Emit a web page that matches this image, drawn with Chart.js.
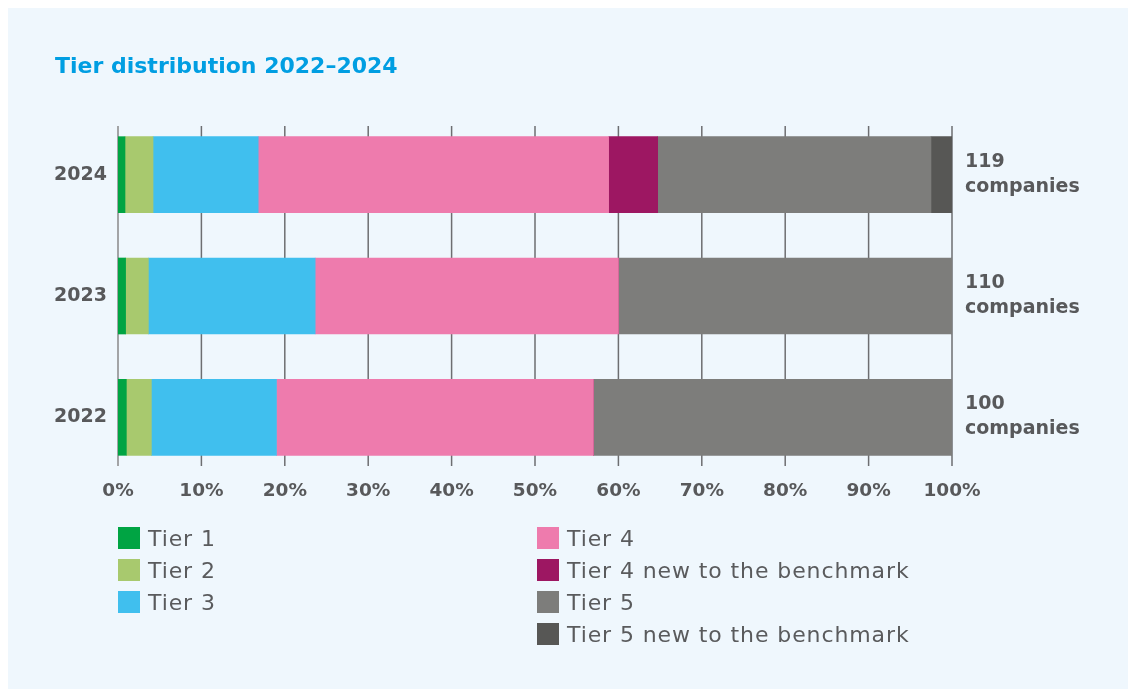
<!DOCTYPE html>
<html>
<head>
<meta charset="utf-8">
<title>Tier distribution 2022–2024</title>
<script src="https://cdn.jsdelivr.net/npm/chart.js@4/dist/chart.umd.min.js"></script>
<style>
  html, body { margin: 0; padding: 0; background: #ffffff; }
  body { width: 1128px; height: 689px; position: relative; overflow: hidden; }
  #panel { position: absolute; left: 8px; top: 8px; width: 1120px; height: 681px; background: #eff7fd; }
  #chart { position: absolute; left: 0; top: 0; }
</style>
</head>
<body>
<div id="panel"></div>
<canvas id="chart" width="1128" height="689"></canvas>
<script>
// Benchmark years, top to bottom
const years = ['2024', '2023', '2022'];
// Number of companies assessed each year
const companyTotals = [119, 110, 100];

// Share of companies per tier (% of that year's total)
const tier1 = [0.84, 0.91, 1.0];
const tier2 = [3.36, 2.73, 3.0];
const tier3 = [12.61, 20.0, 15.0];
const tier4 = [42.02, 36.36, 38.0];
const tier4New = [5.88, 0, 0];
const tier5 = [32.77, 40.0, 43.0];
const tier5New = [2.52, 0, 0];

// Axis ticks (percent)
const xTicks = [0, 10, 20, 30, 40, 50, 60, 70, 80, 90, 100];

const seriesNames = [
  'Tier 1', 'Tier 2', 'Tier 3', 'Tier 4',
  'Tier 4 new to the benchmark', 'Tier 5', 'Tier 5 new to the benchmark'
];
const seriesColors = ['#00a443', '#a8c96e', '#40bfee', '#ee7bad', '#9d1762', '#7d7d7b', '#575755'];
const seriesValues = [tier1, tier2, tier3, tier4, tier4New, tier5, tier5New];

const TEXT = '#58595b';
const BOLD = 'bold 19px "DejaVu Sans"';

// Vertical grid lines behind the bars
const gridPlugin = {
  id: 'gridLines',
  beforeDatasetsDraw(chart) {
    const { ctx, chartArea, scales } = chart;
    const top = chartArea.top + 12;
    const bottom = chartArea.bottom - 12;
    ctx.save();
    xTicks.forEach(v => {
      const x = scales.x.getPixelForValue(v);
      ctx.beginPath();
      ctx.strokeStyle = v === 0 ? '#a3a4a6' : '#6d6e71';
      ctx.lineWidth = v === 0 ? 2 : 1.5;
      ctx.moveTo(x, top);
      ctx.lineTo(x, bottom);
      ctx.stroke();
    });
    ctx.restore();
  }
};

// Title, company totals at the bar ends, and the two-column legend
const annotatePlugin = {
  id: 'annotate',
  afterDraw(chart) {
    const { ctx, chartArea, scales } = chart;
    ctx.save();

    ctx.fillStyle = '#009ee2';
    ctx.font = 'bold 22px "DejaVu Sans"';
    ctx.textAlign = 'left';
    ctx.textBaseline = 'alphabetic';
    ctx.fillText('Tier distribution 2022–2024', 55, 73);

    ctx.fillStyle = TEXT;
    ctx.font = BOLD;
    ctx.textBaseline = 'middle';
    years.forEach((y, i) => {
      const cy = scales.y.getPixelForValue(i);
      const x = chartArea.right + 13;
      ctx.fillText(String(companyTotals[i]), x, cy - 13);
      ctx.fillText('companies', x, cy + 12);
    });

    const columns = [[0, 1, 2], [3, 4, 5, 6]];
    const colX = [118, 537];
    ctx.font = '22px "DejaVu Sans"';
    ctx.letterSpacing = '0.9px';
    ctx.textBaseline = 'alphabetic';
    const items = chart.data.datasets;
    columns.forEach((col, c) => {
      col.forEach((di, r) => {
        const ds = items[di];
        const top = 527 + r * 32;
        ctx.fillStyle = ds.backgroundColor;
        ctx.fillRect(colX[c], top, 22, 22);
        ctx.fillStyle = '#5a5b5d';
        ctx.fillText(ds.label, colX[c] + 30, top + 19);
      });
    });
    ctx.restore();
  }
};

new Chart(document.getElementById('chart'), {
  type: 'bar',
  data: {
    labels: years,
    datasets: seriesNames.map((name, i) => ({
      label: name,
      data: seriesValues[i],
      backgroundColor: seriesColors[i],
      borderWidth: 0,
      barThickness: 76
    }))
  },
  options: {
    indexAxis: 'y',
    responsive: false,
    animation: false,
    devicePixelRatio: 1,
    layout: { padding: { left: 0, right: 176, top: 114, bottom: 181 } },
    plugins: { legend: { display: false }, tooltip: { enabled: false } },
    scales: {
      x: {
        stacked: true,
        min: 0,
        max: 100,
        grid: { display: false },
        border: { display: false },
        afterBuildTicks(scale) { scale.ticks = xTicks.map(v => ({ value: v })); },
        afterFit(scale) { scale.height = 30; },
        ticks: {
          padding: -6,
          color: TEXT,
          font: { family: 'DejaVu Sans', weight: 'bold', size: 18.5 },
          callback: v => v + '%'
        }
      },
      y: {
        stacked: true,
        grid: { display: false },
        border: { display: false },
        afterFit(scale) { scale.width = 118; },
        ticks: {
          padding: 3,
          color: TEXT,
          font: { family: 'DejaVu Sans', weight: 'bold', size: 19 }
        }
      }
    }
  },
  plugins: [gridPlugin, annotatePlugin]
});
</script>
</body>
</html>
